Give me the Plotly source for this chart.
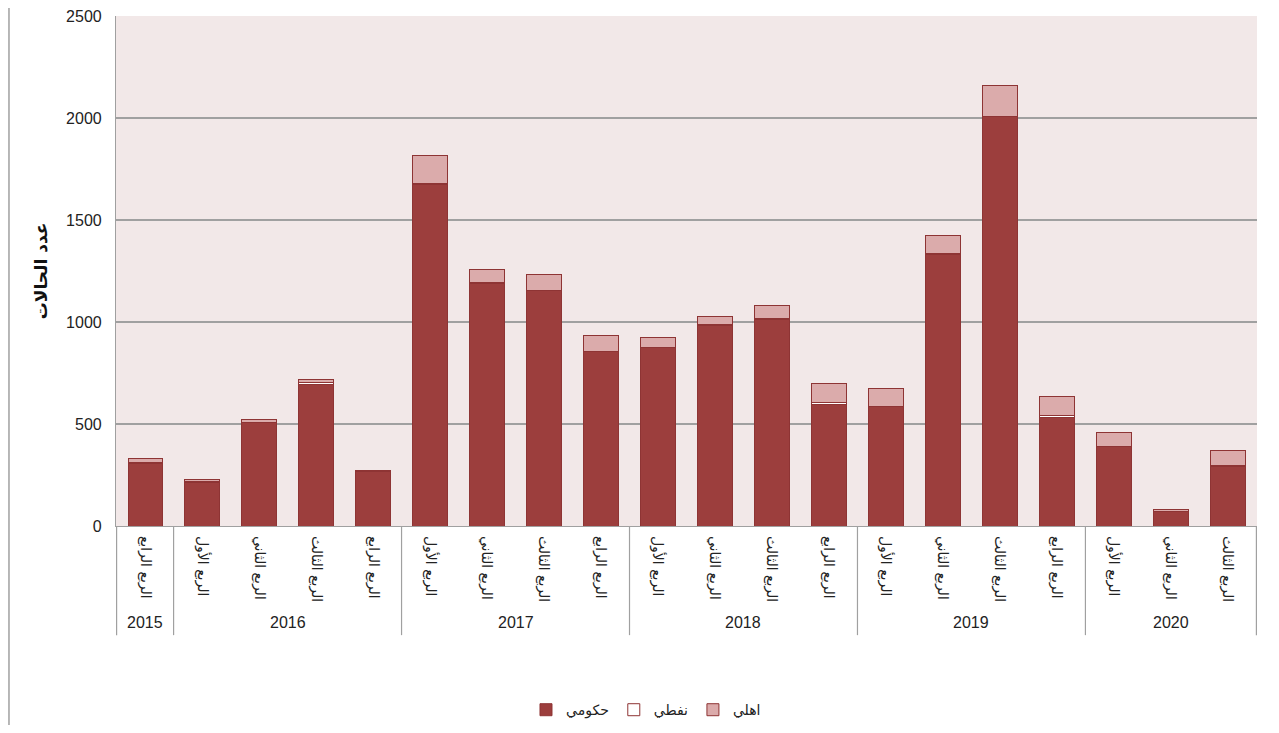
import plotly.graph_objects as go

years = ["2015", "2016", "2016", "2016", "2016",
         "2017", "2017", "2017", "2017",
         "2018", "2018", "2018", "2018",
         "2019", "2019", "2019", "2019",
         "2020", "2020", "2020"]
Q1, Q2, Q3, Q4 = "الربع الأول", "الربع الثاني", "الربع الثالث", "الربع الرابع"
quarters = [Q4, Q1, Q2, Q3, Q4,
            Q1, Q2, Q3, Q4,
            Q1, Q2, Q3, Q4,
            Q1, Q2, Q3, Q4,
            Q1, Q2, Q3]

gov = [307, 212, 505, 695, 268,
       1676, 1191, 1152, 853,
       873, 984, 1013, 597,
       584, 1333, 2005, 530,
       389, 72, 294]
oil = [3, 5, 2, 10, 2,
       2, 2, 2, 2,
       2, 2, 2, 10,
       2, 2, 2, 12,
       1, 1, 1]
private = [23, 12, 16, 15, 1,
           136, 62, 81, 81,
           48, 40, 65, 91,
           87, 88, 150, 95,
           69, 9, 76]

names = ["حكومي", "نفطي", "اهلي"]
fills = ["#9c3e3d", "#ffffff", "#dbabab"]
line_col = "#8e3434"
grey = "#a0a0a0"

keys = [f"{y}-{i}" for i, y in enumerate(years)]

fig = go.Figure()
for name, vals, fc in zip(names, [gov, oil, private], fills):
    fig.add_trace(go.Bar(
        x=keys, y=vals, name=name,
        marker=dict(color=fc, line=dict(color=line_col, width=1)),
    ))

groups = []
for i, y in enumerate(years):
    if not groups or groups[-1][0] != y:
        groups.append([y, i, i])
    else:
        groups[-1][2] = i

annotations = []
shapes = []
for y, a, b in groups:
    annotations.append(dict(x=(a + b) / 2, y=-0.19, xref="x", yref="paper", text=y,
                            showarrow=False, font=dict(size=16, color="#222222"),
                            yanchor="middle"))
    shapes.append(dict(type="line", xref="x", yref="paper", x0=a - 0.5, x1=a - 0.5,
                       y0=0, y1=-0.214, line=dict(color=grey, width=1.2)))
shapes.append(dict(type="line", xref="x", yref="paper", x0=len(years) - 0.5, x1=len(years) - 0.5,
                   y0=0, y1=-0.214, line=dict(color=grey, width=1.2)))
shapes.append(dict(type="line", xref="paper", yref="paper", x0=-0.0938, x1=-0.0938, y0=-0.40, y1=1.02,
                   line=dict(color=grey, width=1.5)))

fig.update_layout(
    barmode="stack",
    bargap=0.4,
    width=1263, height=717,
    margin=dict(l=108, r=14, t=8, b=199, autoexpand=False),
    paper_bgcolor="white",
    plot_bgcolor="#f2e8e8",
    font=dict(family="Liberation Sans, DejaVu Sans, Arial", size=15, color="#222222"),
    legend=dict(orientation="h", x=0.4645, xanchor="center", y=-0.361, yanchor="middle",
                font=dict(size=14), traceorder="normal", itemwidth=30),
    xaxis=dict(
        type="category",
        tickmode="array", tickvals=keys, ticktext=quarters,
        tickangle=90,
        showline=True, linecolor=grey, linewidth=1.2,
        ticks="", automargin=False,
        ticklabelstandoff=6,
        tickfont=dict(size=14, color="#222222", family="DejaVu Sans"),
    ),
    yaxis=dict(
        range=[0, 2500], dtick=500,
        showgrid=True, gridcolor=grey, gridwidth=1.5,
        showline=True, linecolor=grey, linewidth=1.2,
        zeroline=False, automargin=False,
        ticklabelstandoff=10, ticklabeloverflow="allow",
        tickfont=dict(size=16),
        title=dict(text="<b>عدد الحالات</b>", font=dict(size=17, color="#111111", family="DejaVu Sans"), standoff=14),
    ),
    annotations=annotations,
    shapes=shapes,
)

fig.write_html("out.html")
